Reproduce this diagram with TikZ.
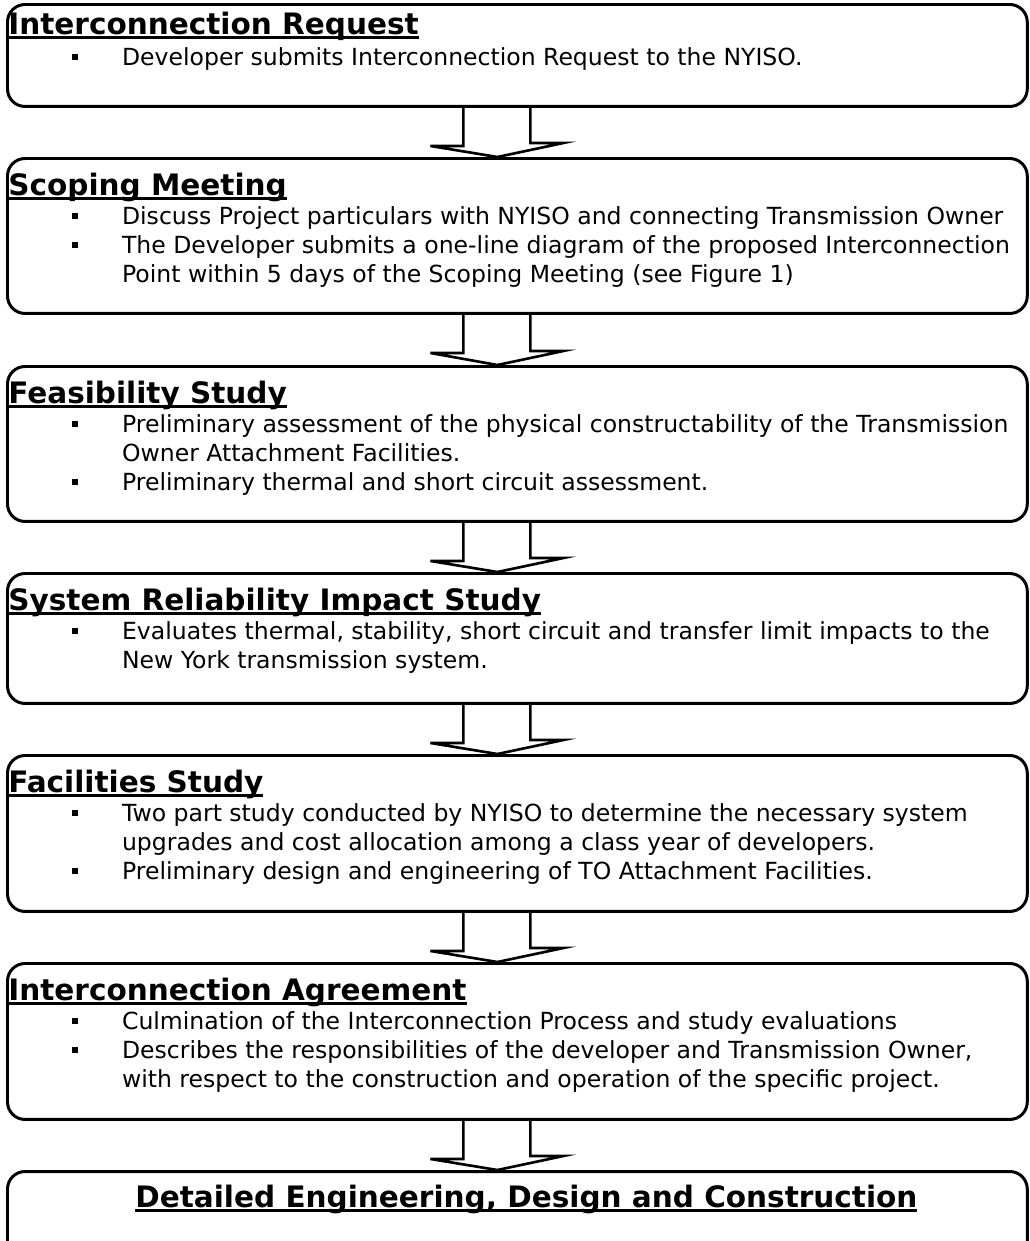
\documentclass[tikz,border=0pt]{standalone}
\usepackage{fontspec}
\setmainfont{DejaVu Sans}
\usetikzlibrary{positioning, calc, backgrounds}

\newcommand{\bul}{\makebox[28.3pt][l]{\rule[0.22em]{3.4pt}{3.4pt}}}
\newcommand{\cnt}{\hspace*{28.3pt}}
\newcommand{\hd}[1]{\setbox0\hbox{#1}\rlap{\rule[-2.6pt]{\wd0}{1.2pt}}\box0}
\newcommand{\lines}[1]{\begin{tabular}[t]{@{}l@{}}#1\end{tabular}}

\begin{document}
\begin{tikzpicture}[x=0.02cm, y=-0.02cm,
    stagebox/.style={draw, line width=1.7pt, rounded corners=10pt, minimum width=20.4cm, anchor=north west, inner sep=0pt},
    stagehead/.style={anchor=base west, inner sep=0pt, font=\fontsize{16.8}{19}\selectfont\bfseries},
    stagetext/.style={anchor=base west, inner sep=0pt, font=\fontsize{13.4}{16.6}\selectfont},
    flowarrow/.style={draw, fill=white, line width=1.5pt, line join=miter}]
    \clip (0,0) rectangle (1029,1241);
    % stage boxes
    \foreach \nm/\ytop/\hgt in {irq/3/2.04, scm/157/3.1, fea/365/3.1, sri/572/2.6, fac/754/3.12, iag/962/3.12, dec/1170/3}
        \node[stagebox, minimum height=\hgt cm] (\nm) at (6,\ytop) {};

    % headings and bullet texts
    \node[stagehead] (irqh) at ($(irq.north west)+(2,31)$) {\hd{Interconnection Request}};
    \node[stagetext] (irqt) at ($(irq.north west)+(66,62)$) {\bul Developer submits Interconnection Request to the NYISO.};

    \node[stagehead] (scmh) at ($(scm.north west)+(2,38)$) {\hd{Scoping Meeting}};
    \node[stagetext] (scmt) at ($(scm.north west)+(66,67)$) {\lines{\bul Discuss Project particulars with NYISO and connecting Transmission Owner\\
        \bul The Developer submits a one-line diagram of the proposed Interconnection\\
        \cnt Point within 5 days of the Scoping Meeting (see Figure 1)}};

    \node[stagehead] (feah) at ($(fea.north west)+(2,38)$) {\hd{Feasibility Study}};
    \node[stagetext] (feat) at ($(fea.north west)+(66,67)$) {\lines{\bul Preliminary assessment of the physical constructability of the Transmission\\
        \cnt Owner Attachment Facilities.\\
        \bul Preliminary thermal and short circuit assessment.}};

    \node[stagehead] (srih) at ($(sri.north west)+(2,38)$) {\hd{System Reliability Impact Study}};
    \node[stagetext] (srit) at ($(sri.north west)+(66,67)$) {\lines{\bul Evaluates thermal, stability, short circuit and transfer limit impacts to the\\
        \cnt New York transmission system.}};

    \node[stagehead] (fach) at ($(fac.north west)+(2,38)$) {\hd{Facilities Study}};
    \node[stagetext] (fact) at ($(fac.north west)+(66,67)$) {\lines{\bul Two part study conducted by NYISO to determine the necessary system\\
        \cnt upgrades and cost allocation among a class year of developers.\\
        \bul Preliminary design and engineering of TO Attachment Facilities.}};

    \node[stagehead] (iagh) at ($(iag.north west)+(2,38)$) {\hd{Interconnection Agreement}};
    \node[stagetext] (iagt) at ($(iag.north west)+(66,67)$) {\lines{\bul Culmination of the Interconnection Process and study evaluations\\
        \bul Describes the responsibilities of the developer and Transmission Owner,\\
        \cnt with respect to the construction and operation of the specific project.}};

    \node[stagehead, anchor=base] (dech) at ($(dec.north)+(9,37)$) {\hd{Detailed Engineering, Design and Construction}};

    % hollow arrows between stages
    \begin{scope}[on background layer]
    \foreach \a/\b in {irq/scm, scm/fea, fea/sri, sri/fac, fac/iag, iag/dec}
        \draw[flowarrow] ($(\a.south)+(-54,0)$) -- ++(0,38) -- ++(-33,0) -- ($(\b.north)+(-20,0)$) -- ++(66,-14) -- ++(-33,0) -- ($(\a.south)+(13,0)$);
    \end{scope}
\end{tikzpicture}
\end{document}
